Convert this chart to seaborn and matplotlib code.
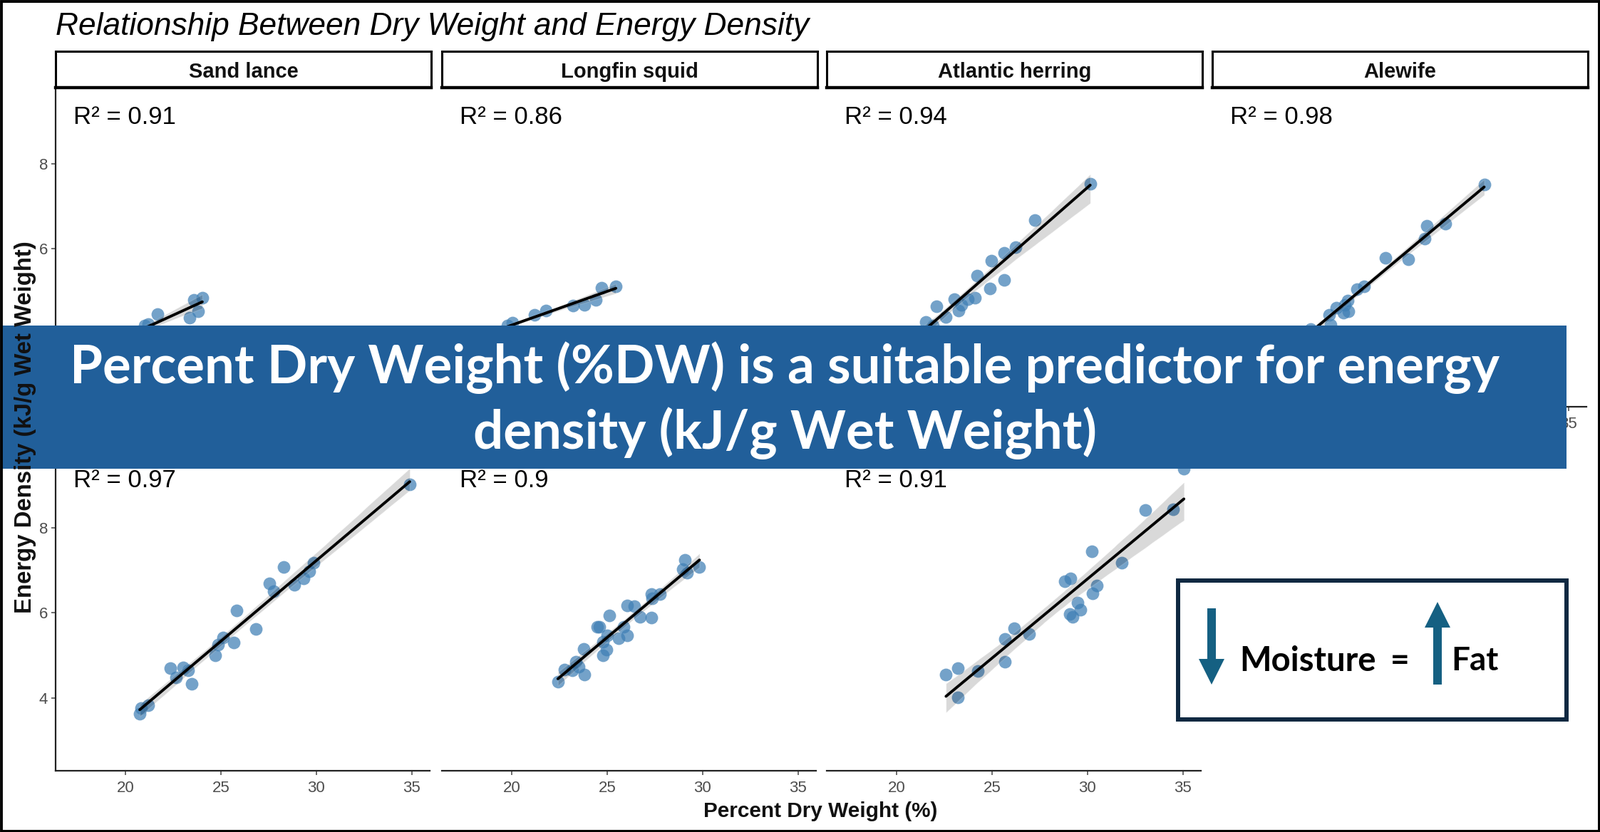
"""Dry weight vs energy density facets, with the banner and callout overlaid."""

import matplotlib
matplotlib.use("Agg")
import matplotlib.pyplot as plt
from matplotlib.patches import FancyArrow, Rectangle
import pandas as pd
import seaborn as sns

W, H = 2245, 1168

TITLE = "Relationship Between Dry Weight and Energy Density"
X_LABEL = "Percent Dry Weight (%)"
Y_LABEL = "Energy Density (kJ/g Wet Weight)"
BANNER = "Percent Dry Weight (%DW) is a suitable predictor for energy\ndensity (kJ/g Wet Weight)"

# top row (points under the banner are estimated from the line)
sand_lance_x = [18.0, 18.7, 19.4, 20.1, 20.5, 21.01, 21.2, 21.67, 23.34, 23.8, 23.59, 24.02]
sand_lance_y = [3.45, 3.65, 3.8, 3.95, 4.05, 4.21, 4.24, 4.47, 4.38, 4.53, 4.81, 4.85]
squid_x = [18.6, 19.2, 19.75, 20.03, 21.18, 21.78, 23.2, 23.8, 24.41, 24.68, 25.45]
squid_y = [3.95, 4.05, 4.21, 4.27, 4.45, 4.56, 4.67, 4.69, 4.81, 5.09, 5.12]
herring_x = [20.7, 21.1, 21.53, 21.88, 22.1, 22.56, 23.0, 23.24, 23.38, 23.71, 24.09, 24.2,
             24.88, 24.96, 25.64, 25.64, 26.21, 27.22, 30.14]
herring_y = [3.9, 4.0, 4.29, 4.2, 4.66, 4.41, 4.83, 4.56, 4.69, 4.83, 4.85, 5.38,
             5.08, 5.72, 5.28, 5.91, 6.05, 6.68, 7.53]
alewife_x = [20.5, 20.9, 21.48, 22.46, 22.52, 22.84, 23.2, 23.28, 23.42, 23.47, 23.91, 24.29,
             25.41, 26.61, 27.45, 27.56, 28.54, 30.58]
alewife_y = [3.8, 3.9, 4.12, 4.46, 4.22, 4.63, 4.51, 4.69, 4.79, 4.53, 5.05, 5.12,
             5.79, 5.75, 6.24, 6.54, 6.59, 7.51]

# bottom row (the species names sit under the banner)
row2a_x = [20.74, 20.82, 21.2, 22.35, 22.66, 23.0, 23.28, 23.45, 24.68, 24.85, 25.12, 25.67,
           25.8, 26.84, 27.53, 27.75, 28.3, 28.84, 29.33, 29.64, 29.85, 34.89]
row2a_y = [3.64, 3.77, 3.84, 4.7, 4.48, 4.73, 4.66, 4.34, 5.01, 5.25, 5.43, 5.31,
           6.06, 5.62, 6.7, 6.51, 7.07, 6.66, 6.81, 6.98, 7.18, 9.01]
row2b_x = [22.41, 22.76, 23.15, 23.34, 23.5, 23.8, 23.75, 24.79, 24.95, 24.79, 25.0, 24.49, 24.57,
           25.12, 25.58, 25.86, 26.05, 26.05, 26.43, 26.71, 27.31, 27.31, 27.36, 27.77,
           28.95, 29.17, 29.06, 29.83]
row2b_y = [4.39, 4.68, 4.65, 4.86, 4.74, 4.55, 5.16, 5.0, 5.14, 5.33, 5.47, 5.67, 5.68,
           5.94, 5.4, 5.67, 5.47, 6.18, 6.16, 5.91, 5.89, 6.45, 6.34, 6.44,
           7.02, 6.94, 7.25, 7.07]
row2c_x = [22.58, 23.21, 23.21, 24.24, 25.65, 25.65, 26.14, 26.93, 28.8, 29.1, 29.05, 29.21,
           29.46, 29.62, 30.27, 30.49, 30.22, 31.79, 33.04, 34.48, 35.05]
row2c_y = [4.55, 4.7, 4.02, 4.64, 5.39, 4.86, 5.64, 5.5, 6.74, 6.81, 5.97, 5.9,
           6.24, 6.07, 6.46, 6.65, 7.45, 7.17, 8.41, 8.43, 9.38]

strip_names = ["Sand lance", "Longfin squid", "Atlantic herring", "Alewife", "", "", ""]
r2_labels = ["0.91", "0.86", "0.94", "0.98", "0.97", "0.9", "0.91"]
xs = [sand_lance_x, squid_x, herring_x, alewife_x, row2a_x, row2b_x, row2c_x]
ys = [sand_lance_y, squid_y, herring_y, alewife_y, row2a_y, row2b_y, row2c_y]

x_ticks = [20, 25, 30, 35]
y_ticks = [4, 6, 8]

sns.set_theme(style="white")
plt.rcParams["font.family"] = ["Liberation Sans", "DejaVu Sans"]

fig = plt.figure(figsize=(W / 100, H / 100), dpi=100, facecolor="white")


def box(left, top, right, bottom):
    return [left / W, 1 - bottom / H, (right - left) / W, (bottom - top) / H]


panel_left = [78, 620, 1160, 1701]
panel_w = 525
strip_w = 527
row_top = [125, 636]
panel_h = 446

for i, (px, py) in enumerate(zip(xs, ys)):
    row, col = (0, i) if i < 4 else (1, i - 4)
    left, top = panel_left[col], row_top[row]
    ax = fig.add_axes(box(left, top, left + panel_w, top + panel_h))
    df = pd.DataFrame({"dw": px, "ed": py})
    sns.regplot(data=df, x="dw", y="ed", ax=ax, seed=3,
                scatter_kws={"s": 165, "alpha": 0.72, "color": "#3F7FB5", "linewidths": 0},
                line_kws={"color": "black", "lw": 2.8})
    ax.set_xlim(16.33, 35.94)
    ax.set_ylim(2.3, 9.75)
    ax.set_xlabel("")
    ax.set_ylabel("")
    ax.set_xticks(x_ticks)
    ax.set_yticks(y_ticks)
    for side in ["top", "right"]:
        ax.spines[side].set_visible(False)
    ax.spines["left"].set_visible(col == 0)
    ax.spines["bottom"].set_visible(row == 1 or col == 3)
    for side in ["left", "bottom"]:
        ax.spines[side].set_color("#222222")
        ax.spines[side].set_linewidth(1.6)
    ax.tick_params(axis="x", bottom=(row == 1 or col == 3), labelbottom=(row == 1 or col == 3),
                   length=4, width=1.1, color="#444444", labelsize=16, labelcolor="#4D4D4D", pad=6)
    ax.tick_params(axis="y", left=col == 0, labelleft=col == 0,
                   length=4, width=1.1, color="#444444", labelsize=16, labelcolor="#4D4D4D", pad=4)
    ax.text(25 / panel_w, 1 - 39 / panel_h, f"R² = {r2_labels[i]}", transform=ax.transAxes,
            fontsize=25, color="black", va="center", ha="left")
    if strip_names[i]:
        strip = fig.add_axes(box(left, 72, left + strip_w, 123))
        strip.set_xticks([])
        strip.set_yticks([])
        for s in strip.spines.values():
            s.set_linewidth(2.2)
            s.set_color("black")
        strip.spines["bottom"].set_linewidth(3.2)
        strip.text(0.5, 0.44, strip_names[i], ha="center", va="center",
                   fontsize=21, fontweight="bold", color="#111111")

# overlay in pixel coordinates
ov = fig.add_axes([0, 0, 1, 1], zorder=10)
ov.set_xlim(0, W)
ov.set_ylim(H, 0)
ov.axis("off")
ov.patch.set_alpha(0)

ov.text(78, 37, TITLE, fontsize=31.9, style="italic", color="black", ha="left", va="center")
ov.text(1151, 1139, X_LABEL, fontsize=21.4, fontweight="bold", ha="center", va="center", color="#111111")
ov.text(35.5, 600, Y_LABEL, fontsize=23.7, fontweight="bold", rotation=90,
        ha="center", va="center", color="#111111")

ov.add_patch(Rectangle((3, 457), 2195, 201, facecolor="#215F9A", edgecolor="none"))
ov.text(1101, 562, BANNER, color="white", fontsize=53.6, fontweight="bold", family="Lato",
        ha="center", va="center", linespacing=1.3, multialignment="center")

ov.add_patch(Rectangle((1653, 815), 545, 195, facecolor="white", edgecolor="#0E2841", linewidth=4.3))
ov.add_patch(FancyArrow(1700, 854, 0, 107, width=12, head_width=36, head_length=36,
                        length_includes_head=True, color="#156082", linewidth=0))
ov.add_patch(FancyArrow(2017, 961, 0, -116, width=12, head_width=36, head_length=36,
                        length_includes_head=True, color="#156082", linewidth=0))
ov.text(1739, 928, "Moisture", fontsize=34, fontweight="bold", family="Lato",
        color="black", ha="left", va="center")
ov.text(1964, 928, "=", fontsize=33, fontweight="bold", family="Lato",
        color="black", ha="center", va="center")
ov.text(2036, 928, "Fat", fontsize=33, fontweight="bold", family="Lato",
        color="black", ha="left", va="center")

ov.add_patch(Rectangle((1.5, 1.5), W - 3, H - 3, facecolor="none", edgecolor="black", linewidth=2.8))

fig.savefig("out.png", dpi=100)
